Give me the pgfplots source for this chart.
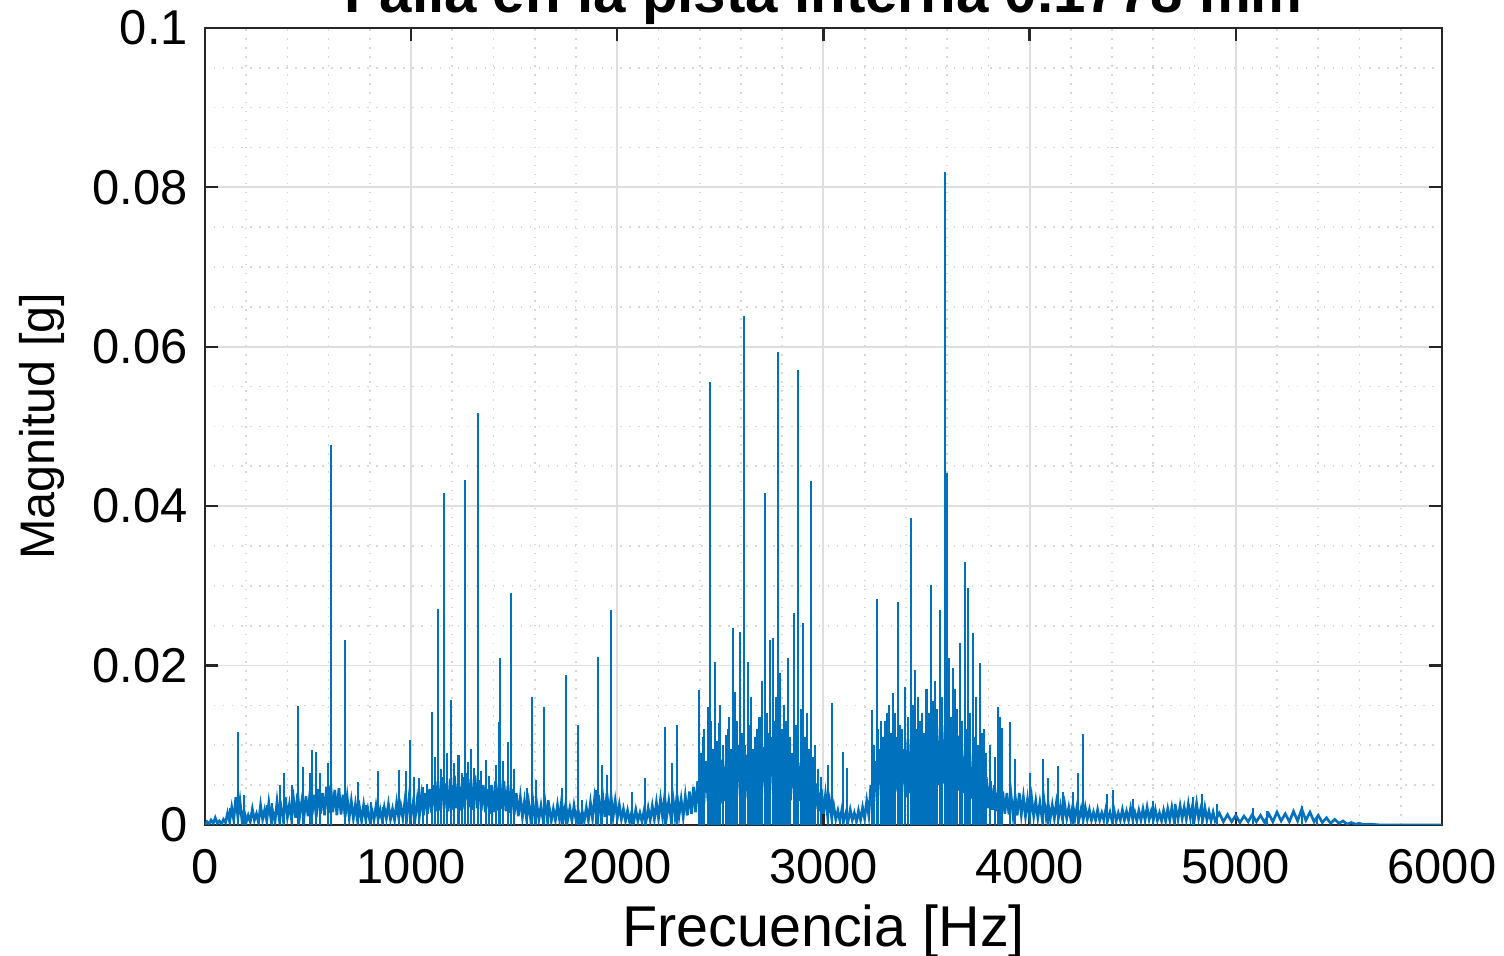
\documentclass[border=0pt]{standalone}
\usepackage{pgfplots}
\pgfplotsset{compat=1.18}
\usepackage{fontspec}
\setmainfont{Liberation Sans}
\definecolor{mblue}{RGB}{0,114,189}
\definecolor{maxis}{RGB}{38,38,38}
\begin{document}
\begin{tikzpicture}
\begin{axis}[
  name=ax,
  at={(0,0)}, anchor=south west,
  scale only axis, width=329pt, height=212pt,
  xmin=0, xmax=6000, ymin=0, ymax=0.1,
  xtick={0,1000,2000,3000,4000,5000,6000},
  xticklabels={0,1000,2000,3000,4000,5000,6000},
  ytick={0,0.02,0.04,0.06,0.08,0.1},
  yticklabels={0,0.02,0.04,0.06,0.08,0.1},
  minor x tick num=4, minor y tick num=3,
  grid=both,
  major grid style={draw=black!13, line width=0.5pt},
  minor grid style={draw=black!16, dotted, line width=0.45pt},
  tick align=inside, major tick length=3.5pt, minor tick length=0pt,
  axis line style={draw=maxis, line width=0.6pt},
  every tick/.style={draw=maxis, line width=0.6pt},
  ticklabel style={font=\fontsize{13}{15}\selectfont, text=black},
  xticklabel style={yshift=-3pt},
  yticklabel style={xshift=-1pt},
  xlabel={Frecuencia [Hz]}, ylabel={Magnitud [g]},
  xlabel style={font=\fontsize{15.3}{17}\selectfont, at={(axis description cs:0.5,0)}, anchor=center, yshift=-28.5pt},
  ylabel style={font=\fontsize{12.9}{15}\selectfont, at={([xshift=-43.4pt]axis description cs:0,0.5)}, anchor=center},
  clip=true,
]
% background noise
\addplot[mblue, line width=0.7pt] coordinates {
(0,0) (10,0.0004) (20,0.0001) (30,0.0006) (40,0.0002) (50,0.0009) (60,0.0002) (70,0.0005) (80,0.0001) (90,0.0007) (100,0.0003)
(110,0.0015) (120,0.0004) (130,0.0022) (140,0.0006) (150,0.0035) (160,0.0010) (170,0.0030) (180,0.0005) (190,0.0018) (200,0.0003)
(210,0.0012) (220,0.0004) (230,0.0020) (240,0.0006) (250,0.0014) (260,0.0003) (270,0.0025) (280,0.0007) (290,0.0019) (300,0.0005)
(310,0.0028) (320,0.0008) (330,0.0016) (340,0.0004) (350,0.0030) (360,0.0009) (370,0.0022) (380,0.0006) (390,0.0035) (400,0.0010)
(410,0.0026) (420,0.0007) (430,0.0032) (440,0.0009) (450,0.0040) (460,0.0012) (470,0.0030) (480,0.0008) (490,0.0036) (500,0.0011)
(510,0.0042) (520,0.0013) (530,0.0038) (540,0.0010) (550,0.0045) (560,0.0014) (570,0.0040) (580,0.0012) (590,0.0048) (600,0.0015)
(610,0.0050) (620,0.0016) (630,0.0044) (640,0.0012) (650,0.0046) (660,0.0013) (670,0.0038) (680,0.0010) (690,0.0035) (700,0.0009)
(710,0.0030) (720,0.0008) (730,0.0026) (740,0.0006) (750,0.0022) (760,0.0005) (770,0.0025) (780,0.0007) (790,0.0020) (800,0.0005)
(810,0.0018) (820,0.0006) (830,0.0024) (840,0.0007) (850,0.0019) (860,0.0005) (870,0.0022) (880,0.0008) (890,0.0026) (900,0.0007)
(910,0.0020) (920,0.0006) (930,0.0028) (940,0.0009) (950,0.0024) (960,0.0008) (970,0.0030) (980,0.0010) (990,0.0034) (1000,0.0011)
(1010,0.0028) (1020,0.0009) (1030,0.0032) (1040,0.0011) (1050,0.0036) (1060,0.0012) (1070,0.0040) (1080,0.0014) (1090,0.0045) (1100,0.0015)
(1110,0.0050) (1120,0.0017) (1130,0.0055) (1140,0.0018) (1150,0.0060) (1160,0.0020) (1170,0.0052) (1180,0.0017) (1190,0.0058) (1200,0.0019)
(1210,0.0062) (1220,0.0021) (1230,0.0055) (1240,0.0018) (1250,0.0060) (1260,0.0020) (1270,0.0065) (1280,0.0022) (1290,0.0058) (1300,0.0019)
(1310,0.0062) (1320,0.0021) (1330,0.0056) (1340,0.0018) (1350,0.0050) (1360,0.0016) (1370,0.0045) (1380,0.0014) (1390,0.0050) (1400,0.0016)
(1410,0.0055) (1420,0.0018) (1430,0.0060) (1440,0.0020) (1450,0.0055) (1460,0.0017) (1470,0.0050) (1480,0.0015) (1490,0.0045) (1500,0.0013)
(1510,0.0040) (1520,0.0011) (1530,0.0035) (1540,0.0010) (1550,0.0030) (1560,0.0008) (1570,0.0028) (1580,0.0007) (1590,0.0032) (1600,0.0009)
(1610,0.0026) (1620,0.0007) (1630,0.0024) (1640,0.0006) (1650,0.0028) (1660,0.0008) (1670,0.0022) (1680,0.0005) (1690,0.0020) (1700,0.0006)
(1710,0.0025) (1720,0.0007) (1730,0.0030) (1740,0.0009) (1750,0.0026) (1760,0.0007) (1770,0.0021) (1780,0.0005) (1790,0.0024) (1800,0.0006)
(1810,0.0019) (1820,0.0004) (1830,0.0017) (1840,0.0005) (1850,0.0022) (1860,0.0006) (1870,0.0028) (1880,0.0008) (1890,0.0033) (1900,0.0010)
(1910,0.0038) (1920,0.0012) (1930,0.0035) (1940,0.0010) (1950,0.0040) (1960,0.0012) (1970,0.0036) (1980,0.0010) (1990,0.0030) (2000,0.0008)
(2010,0.0025) (2020,0.0007) (2030,0.0020) (2040,0.0005) (2050,0.0018) (2060,0.0004) (2070,0.0016) (2080,0.0004) (2090,0.0019) (2100,0.0005)
(2110,0.0015) (2120,0.0004) (2130,0.0018) (2140,0.0005) (2150,0.0021) (2160,0.0006) (2170,0.0024) (2180,0.0007) (2190,0.0028) (2200,0.0008)
(2210,0.0032) (2220,0.0010) (2230,0.0036) (2240,0.0011) (2250,0.0030) (2260,0.0009) (2270,0.0034) (2280,0.0011) (2290,0.0038) (2300,0.0012)
(2310,0.0032) (2320,0.0010) (2330,0.0036) (2340,0.0012) (2350,0.0042) (2360,0.0014) (2370,0.0048) (2380,0.0016) (2390,0.0055) (2400,0.0020)
(2410,0.0070) (2420,0.0025) (2430,0.0080) (2440,0.0030) (2450,0.0090) (2460,0.0028) (2470,0.0085) (2480,0.0032) (2490,0.0075) (2500,0.0026)
(2510,0.0082) (2520,0.0030) (2530,0.0095) (2540,0.0034) (2550,0.0088) (2560,0.0031) (2570,0.0092) (2580,0.0035) (2590,0.0100) (2600,0.0036)
(2610,0.0094) (2620,0.0033) (2630,0.0088) (2640,0.0030) (2650,0.0080) (2660,0.0028) (2670,0.0086) (2680,0.0032) (2690,0.0092) (2700,0.0035)
(2710,0.0098) (2720,0.0038) (2730,0.0105) (2740,0.0040) (2750,0.0110) (2760,0.0042) (2770,0.0104) (2780,0.0039) (2790,0.0098) (2800,0.0036)
(2810,0.0092) (2820,0.0034) (2830,0.0086) (2840,0.0031) (2850,0.0090) (2860,0.0033) (2870,0.0084) (2880,0.0030) (2890,0.0078) (2900,0.0028)
(2910,0.0072) (2920,0.0025) (2930,0.0068) (2940,0.0023) (2950,0.0060) (2960,0.0020) (2970,0.0052) (2980,0.0017) (2990,0.0045) (3000,0.0014)
(3010,0.0038) (3020,0.0012) (3030,0.0030) (3040,0.0009) (3050,0.0024) (3060,0.0007) (3070,0.0018) (3080,0.0005) (3090,0.0020) (3100,0.0006)
(3110,0.0016) (3120,0.0005) (3130,0.0019) (3140,0.0006) (3150,0.0015) (3160,0.0004) (3170,0.0018) (3180,0.0006) (3190,0.0022) (3200,0.0008)
(3210,0.0030) (3220,0.0012) (3230,0.0050) (3240,0.0020) (3250,0.0080) (3260,0.0030) (3270,0.0095) (3280,0.0035) (3290,0.0100) (3300,0.0038)
(3310,0.0092) (3320,0.0034) (3330,0.0105) (3340,0.0040) (3350,0.0110) (3360,0.0042) (3370,0.0100) (3380,0.0037) (3390,0.0095) (3400,0.0035)
(3410,0.0108) (3420,0.0040) (3430,0.0112) (3440,0.0043) (3450,0.0104) (3460,0.0038) (3470,0.0098) (3480,0.0036) (3490,0.0106) (3500,0.0041)
(3510,0.0115) (3520,0.0045) (3530,0.0120) (3540,0.0048) (3550,0.0125) (3560,0.0050) (3570,0.0130) (3580,0.0052) (3590,0.0125) (3600,0.0049)
(3610,0.0118) (3620,0.0046) (3630,0.0120) (3640,0.0047) (3650,0.0112) (3660,0.0043) (3670,0.0105) (3680,0.0040) (3690,0.0098) (3700,0.0036)
(3710,0.0090) (3720,0.0033) (3730,0.0082) (3740,0.0030) (3750,0.0075) (3760,0.0027) (3770,0.0068) (3780,0.0024) (3790,0.0060) (3800,0.0021)
(3810,0.0055) (3820,0.0019) (3830,0.0050) (3840,0.0017) (3850,0.0046) (3860,0.0016) (3870,0.0042) (3880,0.0014) (3890,0.0040) (3900,0.0013)
(3910,0.0038) (3920,0.0012) (3930,0.0036) (3940,0.0012) (3950,0.0040) (3960,0.0013) (3970,0.0035) (3980,0.0011) (3990,0.0032) (4000,0.0010)
(4010,0.0034) (4020,0.0011) (4030,0.0030) (4040,0.0009) (4050,0.0028) (4060,0.0009) (4070,0.0031) (4080,0.0010) (4090,0.0027) (4100,0.0008)
(4110,0.0025) (4120,0.0008) (4130,0.0028) (4140,0.0009) (4150,0.0024) (4160,0.0007) (4170,0.0026) (4180,0.0008) (4190,0.0022) (4200,0.0007)
(4210,0.0025) (4220,0.0008) (4230,0.0023) (4240,0.0007) (4250,0.0020) (4260,0.0006) (4270,0.0022) (4280,0.0007) (4290,0.0019) (4300,0.0006)
(4310,0.0016) (4320,0.0006) (4330,0.0019) (4340,0.0006) (4350,0.0015) (4360,0.0006) (4370,0.0020) (4380,0.0007) (4390,0.0016) (4400,0.0005)
(4410,0.0018) (4420,0.0005) (4430,0.0015) (4440,0.0006) (4450,0.0019) (4460,0.0006) (4470,0.0017) (4480,0.0006) (4490,0.0021) (4500,0.0007)
(4510,0.0016) (4520,0.0005) (4530,0.0018) (4540,0.0006) (4550,0.0020) (4560,0.0006) (4570,0.0022) (4580,0.0007) (4590,0.0017) (4600,0.0006)
(4610,0.0019) (4620,0.0006) (4630,0.0015) (4640,0.0005) (4650,0.0018) (4660,0.0005) (4670,0.0020) (4680,0.0006) (4690,0.0022) (4700,0.0007)
(4710,0.0020) (4720,0.0007) (4730,0.0024) (4740,0.0008) (4750,0.0022) (4760,0.0007) (4770,0.0026) (4780,0.0009) (4790,0.0024) (4800,0.0008)
(4810,0.0027) (4820,0.0008) (4830,0.0020) (4840,0.0007) (4850,0.0022) (4860,0.0006) (4870,0.0017) (4880,0.0005) (4890,0.0016) (4900,0.0005)
(4920,0.0015) (4940,0.0004) (4960,0.0013) (4980,0.0004) (5000,0.0012) (5020,0.0003) (5040,0.0011) (5060,0.0004) (5080,0.0013) (5100,0.0004)
(5120,0.0012) (5140,0.0003) (5160,0.0014) (5180,0.0004) (5200,0.0016) (5220,0.0005) (5240,0.0014) (5260,0.0004) (5280,0.0017) (5300,0.0005)
(5320,0.0020) (5340,0.0006) (5360,0.0016) (5380,0.0004) (5400,0.0012) (5420,0.0003) (5440,0.0009) (5460,0.0002) (5480,0.0007) (5500,0.0002)
(5520,0.0005) (5540,0.0001) (5560,0.0003) (5580,0.0001) (5600,0.0002) (5620,0.00005) (5650,0.0001) (5700,0) (6000,0)
};
% spectral peaks
\addplot[mblue, ycomb, line width=0.55pt] coordinates {
(121,0.0021) (160,0.0117) (189,0.0038) (301,0.0025) (325,0.0028) (364,0.0050) (383,0.0065) (422,0.0050) (451,0.0149)
(475,0.0073) (509,0.0065) (519,0.0094) (538,0.0092) (558,0.0065) (597,0.0078) (611,0.0477) (679,0.0232) (742,0.0054)
(781,0.0025) (805,0.0029) (839,0.0068) (863,0.0023) (941,0.0069) (975,0.0068) (994,0.0107) (1038,0.0059) (1077,0.0051)
(1101,0.0142) (1130,0.0271) (1159,0.0417) (1193,0.0157) (1261,0.0433) (1275,0.0079) (1305,0.0072) (1324,0.0517)
(1363,0.0082) (1392,0.0045) (1426,0.0129) (1431,0.0210) (1469,0.0104) (1484,0.0291) (1562,0.0046) (1586,0.0161)
(1605,0.0056) (1644,0.0148) (1663,0.0031) (1731,0.0046) (1751,0.0188) (1809,0.0125) (1828,0.0031) (1896,0.0044)
(1906,0.0211) (1925,0.0075) (1950,0.0063) (1969,0.0270) (2071,0.0041) (2134,0.0059) (2231,0.0123) (2265,0.0078)
(2289,0.0125) (2396,0.0169) (2420,0.0120) (2439,0.0148) (2449,0.0556) (2473,0.0205) (2493,0.0128) (2500,0.0150)
(2527,0.0113) (2540,0.0135) (2561,0.0247) (2570,0.0167) (2595,0.0242) (2614,0.0639) (2633,0.0205) (2650,0.0160)
(2680,0.0120) (2700,0.0180) (2716,0.0417) (2740,0.0232) (2755,0.0235) (2779,0.0593) (2790,0.0190) (2810,0.0150)
(2830,0.0210) (2857,0.0266) (2876,0.0571) (2900,0.0253) (2920,0.0140) (2939,0.0432) (2960,0.0100) (3021,0.0075)
(3041,0.0153) (3094,0.0092) (3113,0.0072) (3235,0.0144) (3259,0.0284) (3280,0.0130) (3308,0.0141) (3320,0.0150)
(3337,0.0166) (3361,0.0280) (3380,0.0120) (3395,0.0173) (3424,0.0385) (3443,0.0194) (3460,0.0160) (3480,0.0140)
(3500,0.0170) (3521,0.0301) (3540,0.0180) (3565,0.0270) (3589,0.0819) (3598,0.0442) (3610,0.0210) (3628,0.0197)
(3640,0.0170) (3662,0.0228) (3686,0.0330) (3700,0.0297) (3725,0.0241) (3740,0.0160) (3759,0.0203) (3780,0.0120)
(3810,0.0100) (3846,0.0148) (3856,0.0136) (3865,0.0122) (3904,0.0129) (3928,0.0083) (4001,0.0065) (4064,0.0083)
(4088,0.0059) (4137,0.0074) (4161,0.0041) (4210,0.0041) (4234,0.0065) (4258,0.0114) (4374,0.0039) (4404,0.0044)
(4500,0.0033) (4597,0.0030) (4704,0.0026) (4792,0.0035) (4835,0.0039) (4908,0.0026) (5082,0.0021) (5150,0.0018)
(5320,0.0024) (5393,0.0011)
};
% smaller peaks inside the dense bands
\addplot[mblue, ycomb, line width=0.55pt] coordinates {
(1015,0.0060) (1060,0.0048) (1115,0.0085) (1145,0.0070) (1175,0.0090) (1210,0.0078) (1230,0.0088) (1245,0.0065)
(1290,0.0095) (1340,0.0068) (1380,0.0062) (1410,0.0075) (1445,0.0080) (1500,0.0070)
(2405,0.0090) (2415,0.0110) (2455,0.0130) (2465,0.0095) (2485,0.0105) (2515,0.0100) (2535,0.0120) (2550,0.0095)
(2580,0.0130) (2605,0.0115) (2620,0.0100) (2640,0.0125) (2660,0.0095) (2670,0.0110) (2690,0.0135) (2725,0.0140)
(2735,0.0115) (2765,0.0130) (2770,0.0160) (2800,0.0120) (2820,0.0130) (2840,0.0110) (2865,0.0125) (2890,0.0145)
(2910,0.0110) (2930,0.0095) (2950,0.0085) (2975,0.0070) (2990,0.0060)
(3245,0.0100) (3265,0.0120) (3290,0.0110) (3300,0.0130) (3330,0.0115) (3345,0.0140) (3370,0.0125) (3410,0.0135)
(3435,0.0150) (3450,0.0120) (3470,0.0130) (3490,0.0115) (3510,0.0140) (3530,0.0155) (3550,0.0145) (3575,0.0160)
(3605,0.0150) (3620,0.0135) (3650,0.0145) (3670,0.0130) (3690,0.0120) (3710,0.0140) (3730,0.0110) (3750,0.0100)
(3770,0.0115) (3790,0.0090) (3830,0.0085)
};
\end{axis}
\node[anchor=base, font=\bfseries\fontsize{15.5}{18}\selectfont, inner sep=0pt] at ([yshift=4pt]ax.north) {Falla en la pista interna 0.1778 mm};
\pgfresetboundingbox
\useasboundingbox (-54.5pt,-34.8pt) rectangle (345.5pt,219.4pt);
\end{tikzpicture}
\end{document}
